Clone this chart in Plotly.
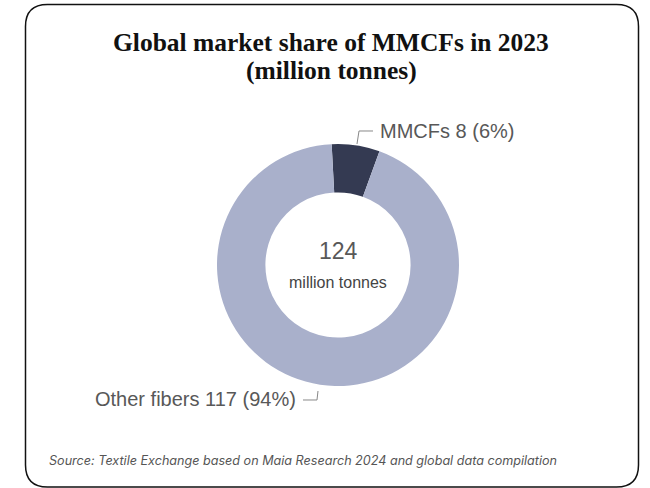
import plotly.graph_objects as go

# ---- data ----
categories = ["MMCFs", "Other fibers"]
values = [8, 117]
shares = [6, 94]
total_value = 124
total_unit = "million tonnes"
colors = ["#343a52", "#a9b0cb"]

title_lines = ["Global market share of MMCFs in 2023", "(million tonnes)"]
source_text = "Source: Textile Exchange based on Maia Research 2024 and global data compilation"

W, H = 650, 488

def px(x):
    return x / W

def py(y):
    return 1 - y / H

fig = go.Figure()
fig.add_trace(go.Pie(
    labels=categories,
    values=values,
    hole=0.6,
    sort=False,
    direction="clockwise",
    rotation=-3,
    marker=dict(colors=colors, line=dict(width=0)),
    textinfo="none",
    hoverinfo="label+value+percent",
    domain=dict(x=[px(217), px(459)], y=[py(386), py(144)]),
    showlegend=False,
))

labels_txt = [f"{c} {v} ({s}%)" for c, v, s in zip(categories, values, shares)]
sans = "Liberation Sans, Arial, sans-serif"

annotations = [
    dict(text=labels_txt[0], x=px(378), y=py(131), xref="paper", yref="paper",
         xanchor="left", yanchor="middle", showarrow=False,
         font=dict(family=sans, size=20, color="#585858")),
    dict(text=labels_txt[1], x=px(298), y=py(399), xref="paper", yref="paper",
         xanchor="right", yanchor="middle", showarrow=False,
         font=dict(family=sans, size=20, color="#585858")),
    dict(text=str(total_value), x=px(338), y=py(251), xref="paper", yref="paper",
         xanchor="center", yanchor="middle", showarrow=False,
         font=dict(family=sans, size=23, color="#585858")),
    dict(text=total_unit, x=px(338), y=py(282), xref="paper", yref="paper",
         xanchor="center", yanchor="middle", showarrow=False,
         font=dict(family=sans, size=16, color="#444444")),
    dict(text=title_lines[0], x=px(331), y=py(42), xref="paper", yref="paper",
         xanchor="center", yanchor="middle", showarrow=False,
         font=dict(family="Liberation Serif, DejaVu Serif, serif", size=25.5, color="#111111", weight="bold")),
    dict(text=title_lines[1], x=px(331), y=py(71), xref="paper", yref="paper",
         xanchor="center", yanchor="middle", showarrow=False,
         font=dict(family="Liberation Serif, DejaVu Serif, serif", size=25.5, color="#111111", weight="bold")),
    dict(text="<i>" + source_text + "</i>", x=px(47), y=py(460), xref="paper", yref="paper",
         xanchor="left", yanchor="middle", showarrow=False,
         font=dict(family="Inter, Roboto, sans-serif", size=12.6, color="#555555")),
]

def rounded_rect(x0, y0, x1, y1, r):
    def P(x, y):
        return f"{px(x):.5f},{py(y):.5f}"
    return (f"M {P(x0 + r, y0)} L {P(x1 - r, y0)} "
            f"Q {P(x1, y0)} {P(x1, y0 + r)} "
            f"L {P(x1, y1 - r)} Q {P(x1, y1)} {P(x1 - r, y1)} "
            f"L {P(x0 + r, y1)} Q {P(x0, y1)} {P(x0, y1 - r)} "
            f"L {P(x0, y0 + r)} Q {P(x0, y0)} {P(x0 + r, y0)} Z")

def poly(points):
    return "M " + " L ".join(f"{px(x):.5f},{py(y):.5f}" for x, y in points)

shapes = [
    dict(type="path", path=rounded_rect(25.5, 4.5, 638.5, 487, 22), xref="paper", yref="paper",
         line=dict(color="#111111", width=1.5), fillcolor="rgba(0,0,0,0)"),
    dict(type="path", path=poly([(357, 144), (359, 131), (373, 131)]), xref="paper", yref="paper",
         line=dict(color="#888888", width=1)),
    dict(type="path", path=poly([(303, 400), (317, 400), (318, 391)]), xref="paper", yref="paper",
         line=dict(color="#888888", width=1)),
]

fig.update_layout(
    width=W, height=H,
    margin=dict(l=0, r=0, t=0, b=0),
    paper_bgcolor="white",
    plot_bgcolor="white",
    annotations=annotations,
    shapes=shapes,
)

fig.write_html("out.html",
               config={"displayModeBar": False},
               post_script="document.body.style.margin='0';document.body.style.overflow='hidden';")
